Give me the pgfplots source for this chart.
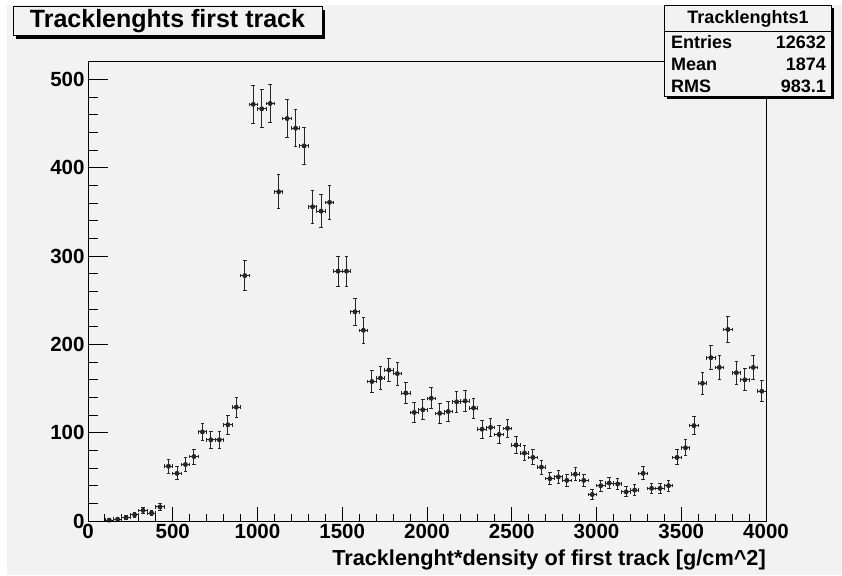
\documentclass[border=0pt]{standalone}
\usepackage{fontspec}
\setmainfont{Liberation Sans}
\usepackage{pgfplots}
\usepackage{pgfplotstable}
\pgfplotsset{compat=1.18}

\definecolor{canvas}{RGB}{242,242,242}

% counts per bin (bin width 50), error = sqrt(N)
\pgfplotstableread{
x y e
125 1 1.0
175 2 1.4
225 4 2.0
275 7 2.6
325 12 3.5
375 9 3.0
425 16 4.0
475 62 7.9
525 54 7.3
575 64 8.0
625 73 8.5
675 101 10.0
725 92 9.6
775 92 9.6
825 109 10.4
875 129 11.4
925 278 16.7
975 472 21.7
1025 467 21.6
1075 473 21.7
1125 373 19.3
1175 456 21.4
1225 445 21.1
1275 425 20.6
1325 356 18.9
1375 351 18.7
1425 361 19.0
1475 283 16.8
1525 283 16.8
1575 237 15.4
1625 216 14.7
1675 158 12.6
1725 162 12.7
1775 171 13.1
1825 167 12.9
1875 145 12.0
1925 123 11.1
1975 126 11.2
2025 139 11.8
2075 122 11.0
2125 124 11.1
2175 135 11.6
2225 136 11.7
2275 128 11.3
2325 104 10.2
2375 106 10.3
2425 98 9.9
2475 105 10.2
2525 86 9.3
2575 77 8.8
2625 72 8.5
2675 61 7.8
2725 48 6.9
2775 50 7.1
2825 46 6.8
2875 53 7.3
2925 46 6.8
2975 30 5.5
3025 40 6.3
3075 43 6.6
3125 42 6.5
3175 33 5.7
3225 35 5.9
3275 54 7.3
3325 37 6.1
3375 37 6.1
3425 40 6.3
3475 72 8.5
3525 83 9.1
3575 108 10.4
3625 156 12.5
3675 185 13.6
3725 174 13.2
3775 217 14.7
3825 168 13.0
3875 160 12.6
3925 174 13.2
3975 147 12.1
}\trackdata

\pgfplotsset{
  rootframe/.style={
    at={(88pt,54pt)}, anchor=south west,
    scale only axis, width=678pt, height=459pt,
    xmin=0, xmax=4000, ymin=0, ymax=520,
    axis line style={line width=1pt, black},
    tick align=inside, tick pos=left,
    tick style={line width=1pt, black},
    ticklabel style={font=\fontsize{20.5}{20.5}\selectfont\bfseries},
    /pgf/number format/assume math mode=true,
    /pgf/number format/set thousands separator={},
  },
}

\begin{document}
\begin{tikzpicture}[x=1pt,y=1pt]
\fill[white] (0,0) rectangle (842,575);
\fill[canvas] (7,0) rectangle (842,570);

\begin{axis}[rootframe,
    xtick={0,500,...,4000}, minor x tick num=4,
    ytick=\empty,
    major tick length=13.8pt, minor tick length=6.9pt,
    xlabel={Tracklenght*density of first track [g/cm\^{}2]},
    xlabel style={at={(rel axis cs:1,0)}, anchor=base east, yshift=-44pt,
      inner sep=0pt, font=\fontsize{21.7}{21.7}\selectfont\bfseries},
]
\addplot[black!85, line width=0.9pt, only marks, mark=none,
  error bars/.cd, x dir=both, x fixed=25, y dir=both, y explicit,
  error bar style={line width=0.9pt, black!85},
  error mark options={rotate=90, mark size=1.8pt, line width=0.9pt, black!85}]
  table[x=x, y=y, y error=e] {\trackdata};
\end{axis}

\begin{axis}[rootframe,
    xtick=\empty,
    ytick={0,100,...,500}, minor y tick num=4,
    major tick length=20.3pt, minor tick length=10.2pt,
]
\end{axis}

% title box
\fill[black] (16,536) rectangle (325,565);
\filldraw[fill=canvas, draw=black, line width=1pt] (13,539) rectangle (322,568);
\node[font=\fontsize{25}{25}\selectfont\bfseries] at (167.5,553.5) {Tracklenghts first track};

% stats box
\fill[black] (666.5,476) rectangle (834,566.5);
\filldraw[fill=canvas, draw=black, line width=1pt] (664,478.5) rectangle (831.5,569);
\draw[line width=1pt] (664,543.3) -- (831.5,543.3);
\begin{scope}[every node/.style={font=\fontsize{18}{18}\selectfont\bfseries, inner sep=0pt}]
\node at (748,556.5) {Tracklenghts1};
\node[anchor=west] at (671,533) {Entries};
\node[anchor=east] at (826,533) {12632};
\node[anchor=west] at (671,510.5) {Mean};
\node[anchor=east] at (826,510.5) {1874};
\node[anchor=west] at (671,489) {RMS};
\node[anchor=east] at (826,489) {983.1};
\end{scope}
\end{tikzpicture}
\end{document}
